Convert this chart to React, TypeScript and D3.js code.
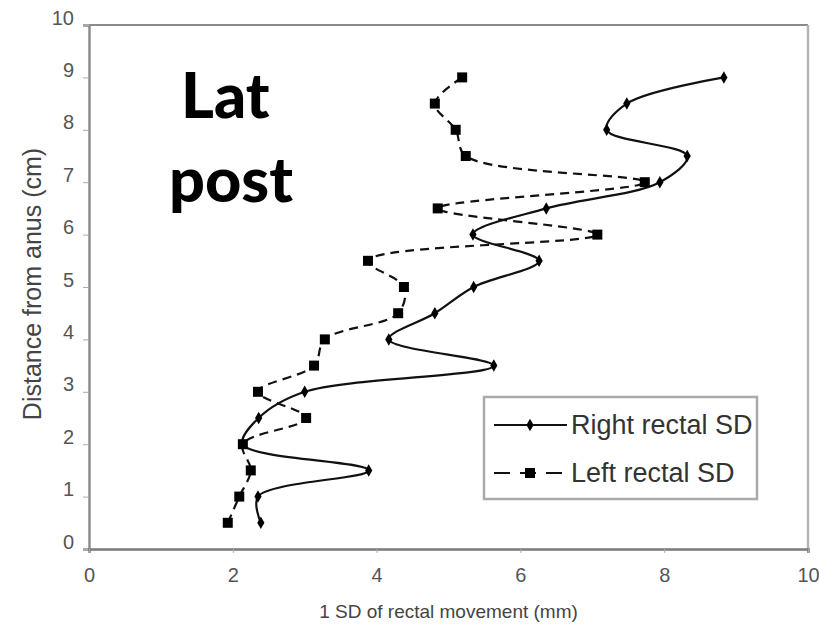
import React, { useEffect, useRef } from 'react';
import * as d3 from 'd3';

// distance from anus (cm) for each measurement
const depthCm = [0.5, 1, 1.5, 2, 2.5, 3, 3.5, 4, 4.5, 5, 5.5, 6, 6.5, 7, 7.5, 8, 8.5, 9];
// 1 SD of rectal movement (mm)
const rightSD = [2.39, 2.35, 3.89, 2.14, 2.36, 3.0, 5.63, 4.17, 4.81, 5.35, 6.26, 5.34, 6.36, 7.94, 8.32, 7.2, 7.48, 8.83];
const leftSD = [1.93, 2.09, 2.25, 2.14, 3.02, 2.35, 3.13, 3.28, 4.3, 4.38, 3.88, 7.07, 4.85, 7.73, 5.24, 5.1, 4.81, 5.19];

const xTicks = [0, 2, 4, 6, 8, 10];
const yTicks = [0, 1, 2, 3, 4, 5, 6, 7, 8, 9, 10];
const seriesNames = ['Right rectal SD', 'Left rectal SD'];
const titleLines = ['Lat', 'post'];

const W = 819;
const H = 630;
const font = 'Arial, "Liberation Sans", sans-serif';

function App() {
  const ref = useRef<SVGSVGElement>(null);

  useEffect(() => {
    const svg = d3.select(ref.current);
    svg.selectAll('*').remove();

    const x = d3.scaleLinear().domain([0, 10]).range([89, 808]);
    const y = d3.scaleLinear().domain([0, 10]).range([549, 25]);

    // plot frame: light top / right, darker axes
    svg.append('line').attr('x1', x(0)).attr('x2', x(10)).attr('y1', y(10)).attr('y2', y(10))
      .attr('stroke', '#8a8a8a').attr('stroke-width', 2);
    svg.append('line').attr('x1', x(10)).attr('x2', x(10)).attr('y1', y(10)).attr('y2', y(0))
      .attr('stroke', '#b5b5b5').attr('stroke-width', 2.5);

    // y axis
    const yAxis = svg.append('g')
      .attr('transform', `translate(${x(0)},0)`)
      .call(d3.axisLeft(y).tickValues(yTicks).tickSize(6).tickFormat(d3.format('d')));
    yAxis.select('.domain').attr('stroke', '#8c8c8c').attr('stroke-width', 2.5);
    yAxis.selectAll('.tick line').attr('stroke', '#aaa');
    yAxis.selectAll('.tick text')
      .attr('x', -15).attr('dy', '-0.05em')
      .attr('font-family', font).attr('font-size', 20).attr('fill', '#555');

    // x axis
    const xAxis = svg.append('g')
      .attr('transform', `translate(0,${y(0)})`)
      .call(d3.axisBottom(x).tickValues(xTicks).tickSize(4).tickFormat(d3.format('d')));
    xAxis.select('.domain').attr('stroke', '#7a7a7a').attr('stroke-width', 2.5);
    xAxis.selectAll('.tick line').attr('stroke', '#aaa');
    xAxis.selectAll('.tick text')
      .attr('y', 19).attr('font-family', font).attr('font-size', 20).attr('fill', '#555');

    // axis titles
    svg.append('text')
      .attr('x', (x(0) + x(10)) / 2).attr('y', 618)
      .attr('text-anchor', 'middle')
      .attr('font-family', font).attr('font-size', 19).attr('fill', '#444')
      .text('1 SD of rectal movement (mm)');
    svg.append('text')
      .attr('transform', 'translate(41,284) rotate(-90)')
      .attr('text-anchor', 'middle')
      .attr('font-family', font).attr('font-size', 25).attr('fill', '#444')
      .text('Distance from anus (cm)');

    // smoothed lines
    const rightPts = depthCm.map((d, i) => [rightSD[i], d]);
    const leftPts = depthCm.map((d, i) => [leftSD[i], d]);
    const line = d3.line<number[]>()
      .x(d => x(d[0]))
      .y(d => y(d[1]))
      .curve(d3.curveCatmullRom.alpha(0.5));

    svg.append('path').attr('d', line(rightPts))
      .attr('fill', 'none').attr('stroke', '#111').attr('stroke-width', 2.2);
    svg.append('path').attr('d', line(leftPts))
      .attr('fill', 'none').attr('stroke', '#111').attr('stroke-width', 2.2)
      .attr('stroke-dasharray', '9,6');

    const diamond = d3.symbol().type(d3.symbolDiamond).size(45);
    const square = d3.symbol().type(d3.symbolSquare).size(100);

    svg.append('g').selectAll('path')
      .data(rightPts).enter().append('path')
      .attr('d', diamond())
      .attr('transform', d => `translate(${x(d[0])},${y(d[1])})`)
      .attr('fill', '#000');
    svg.append('g').selectAll('path')
      .data(leftPts).enter().append('path')
      .attr('d', square())
      .attr('transform', d => `translate(${x(d[0])},${y(d[1])})`)
      .attr('fill', '#000');

    // legend
    const lg = svg.append('g');
    lg.append('rect').attr('x', 484).attr('y', 397).attr('width', 273).attr('height', 102)
      .attr('fill', '#fff').attr('stroke', '#aaa').attr('stroke-width', 2.5);
    // right row
    lg.append('line').attr('x1', 494).attr('x2', 567).attr('y1', 425).attr('y2', 425)
      .attr('stroke', '#111').attr('stroke-width', 2.2);
    lg.append('path').attr('d', diamond()).attr('transform', 'translate(530,425)').attr('fill', '#000');
    // left row
    lg.append('line').attr('x1', 494).attr('x2', 567).attr('y1', 473).attr('y2', 473)
      .attr('stroke', '#111').attr('stroke-width', 2.2).attr('stroke-dasharray', '16,10');
    lg.append('path').attr('d', square()).attr('transform', 'translate(530,473)').attr('fill', '#000');
    lg.selectAll('text.lab')
      .data(seriesNames).enter().append('text')
      .attr('class', 'lab')
      .attr('x', 571).attr('y', (d, i) => 434 + i * 48)
      .attr('font-family', font).attr('font-size', 27).attr('fill', '#333')
      .text(d => d);

    // big annotation
    svg.selectAll('text.note')
      .data(titleLines).enter().append('text')
      .attr('class', 'note')
      .attr('x', (d, i) => (i === 0 ? 181 : 169))
      .attr('y', (d, i) => (i === 0 ? 118 : 202))
      .attr('font-family', 'Lato, "Noto Sans", sans-serif').attr('font-weight', 900)
      .attr('font-size', 63).attr('fill', '#000')
      .text(d => d);
  }, []);

  return (
    <svg ref={ref} width={W} height={H}
      style={{ position: 'absolute', left: 0, top: 0, background: '#fff' }} />
  );
}

export default App;
